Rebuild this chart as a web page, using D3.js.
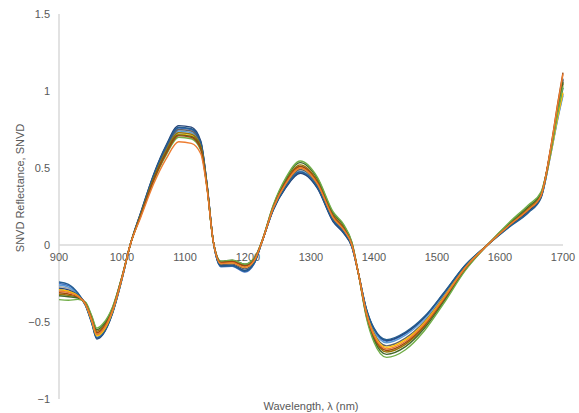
<!DOCTYPE html>
<html>
<head>
<meta charset="utf-8">
<script src="https://cdn.jsdelivr.net/npm/d3@7/dist/d3.min.js"></script>
<style>
  html, body { margin: 0; padding: 0; background: #fff; }
  svg { display: block; }
  text { font-family: "Liberation Sans", Arial, sans-serif; fill: #595959; }
</style>
</head>
<body>
<svg id="chart" width="579" height="413"></svg>
<script>
// Sample wavelengths (nm) shared by every spectrum
const wavelengths = [900, 915, 930, 942, 952, 960, 970, 985, 1000, 1013, 1030, 1050, 1070, 1090, 1110, 1125, 1135, 1145, 1157, 1175, 1195, 1210, 1222, 1240, 1260, 1283, 1310, 1335, 1352, 1365, 1375, 1388, 1400, 1420, 1450, 1480, 1510, 1545, 1580, 1615, 1645, 1665, 1680, 1692, 1700];

// SNVD-corrected reflectance, one array per sample
const sample01 = [-0.25, -0.264, -0.316, -0.389, -0.501, -0.60, -0.57, -0.438, -0.219, 0.00, 0.209, 0.448, 0.636, 0.76, 0.75, 0.664, 0.389, 0.02, -0.141, -0.139, -0.175, -0.121, 0.017, 0.228, 0.376, 0.47, 0.373, 0.156, 0.079, -0.012, -0.18, -0.42, -0.548, -0.625, -0.575, -0.473, -0.321, -0.133, 0.00, 0.121, 0.215, 0.308, 0.579, 0.831, 0.98];
const sample02 = [-0.30, -0.309, -0.334, -0.383, -0.487, -0.58, -0.55, -0.426, -0.213, 0.00, 0.182, 0.394, 0.559, 0.67, 0.66, 0.592, 0.362, 0.02, -0.12, -0.115, -0.145, -0.10, 0.02, 0.24, 0.40, 0.50, 0.40, 0.18, 0.10, 0.00, -0.18, -0.445, -0.588, -0.675, -0.625, -0.513, -0.351, -0.148, 0.00, 0.13, 0.23, 0.32, 0.618, 0.922, 1.11];
const sample03 = [-0.27, -0.282, -0.323, -0.38, -0.48, -0.57, -0.54, -0.42, -0.21, 0.00, 0.20, 0.43, 0.61, 0.73, 0.72, 0.64, 0.38, 0.02, -0.113, -0.107, -0.135, -0.093, 0.021, 0.244, 0.408, 0.51, 0.409, 0.188, 0.107, 0.004, -0.18, -0.45, -0.596, -0.685, -0.635, -0.521, -0.357, -0.151, 0.00, 0.136, 0.24, 0.328, 0.60, 0.88, 1.05];
const sample04 = [-0.29, -0.30, -0.33, -0.386, -0.494, -0.59, -0.56, -0.432, -0.216, 0.00, 0.197, 0.424, 0.601, 0.72, 0.71, 0.632, 0.377, 0.02, -0.12, -0.115, -0.145, -0.10, 0.02, 0.24, 0.40, 0.50, 0.40, 0.18, 0.10, 0.00, -0.18, -0.44, -0.58, -0.665, -0.615, -0.505, -0.345, -0.145, 0.00, 0.13, 0.23, 0.32, 0.582, 0.838, 0.99];
const sample05 = [-0.26, -0.273, -0.32, -0.386, -0.494, -0.59, -0.56, -0.432, -0.216, 0.00, 0.203, 0.436, 0.619, 0.74, 0.73, 0.648, 0.383, 0.02, -0.134, -0.131, -0.165, -0.114, 0.018, 0.232, 0.384, 0.48, 0.382, 0.164, 0.086, -0.008, -0.18, -0.425, -0.556, -0.635, -0.585, -0.481, -0.327, -0.136, 0.00, 0.124, 0.22, 0.312, 0.576, 0.824, 0.97];
const sample06 = [-0.355, -0.359, -0.353, -0.371, -0.459, -0.54, -0.51, -0.402, -0.205, 0.00, 0.191, 0.412, 0.584, 0.70, 0.69, 0.616, 0.371, 0.02, -0.106, -0.099, -0.125, -0.086, 0.025, 0.258, 0.436, 0.545, 0.441, 0.216, 0.132, 0.018, -0.18, -0.473, -0.632, -0.73, -0.68, -0.557, -0.384, -0.165, 0.00, 0.148, 0.26, 0.344, 0.594, 0.866, 1.03];
const sample07 = [-0.28, -0.291, -0.327, -0.392, -0.508, -0.61, -0.58, -0.444, -0.222, 0.00, 0.214, 0.457, 0.648, 0.775, 0.765, 0.676, 0.394, 0.02, -0.134, -0.131, -0.165, -0.114, 0.018, 0.226, 0.372, 0.465, 0.369, 0.152, 0.076, -0.014, -0.18, -0.418, -0.544, -0.62, -0.57, -0.469, -0.318, -0.132, 0.00, 0.124, 0.22, 0.312, 0.609, 0.901, 1.08];
const sample08 = [-0.31, -0.318, -0.337, -0.38, -0.48, -0.57, -0.54, -0.42, -0.21, 0.00, 0.194, 0.418, 0.593, 0.71, 0.70, 0.624, 0.374, 0.02, -0.113, -0.107, -0.135, -0.093, 0.021, 0.244, 0.408, 0.51, 0.409, 0.188, 0.107, 0.004, -0.18, -0.45, -0.596, -0.685, -0.635, -0.521, -0.357, -0.151, 0.00, 0.13, 0.23, 0.32, 0.621, 0.929, 1.12];
const sample09 = [-0.29, -0.30, -0.33, -0.383, -0.487, -0.58, -0.55, -0.426, -0.213, 0.00, 0.206, 0.442, 0.627, 0.75, 0.74, 0.656, 0.386, 0.02, -0.127, -0.123, -0.155, -0.107, 0.019, 0.236, 0.392, 0.49, 0.391, 0.172, 0.093, -0.004, -0.18, -0.435, -0.572, -0.655, -0.605, -0.497, -0.339, -0.142, 0.00, 0.13, 0.23, 0.32, 0.606, 0.894, 1.07];
const sample10 = [-0.32, -0.327, -0.34, -0.377, -0.473, -0.56, -0.53, -0.414, -0.207, 0.00, 0.20, 0.43, 0.61, 0.73, 0.72, 0.64, 0.38, 0.02, -0.113, -0.107, -0.135, -0.093, 0.021, 0.248, 0.416, 0.52, 0.418, 0.196, 0.114, 0.008, -0.18, -0.455, -0.604, -0.695, -0.645, -0.529, -0.363, -0.154, 0.00, 0.136, 0.24, 0.328, 0.60, 0.88, 1.05];
const sample11 = [-0.24, -0.255, -0.312, -0.39, -0.505, -0.605, -0.575, -0.441, -0.22, 0.00, 0.21, 0.451, 0.64, 0.765, 0.755, 0.668, 0.39, 0.02, -0.138, -0.135, -0.17, -0.118, 0.018, 0.23, 0.38, 0.475, 0.378, 0.16, 0.083, -0.01, -0.18, -0.415, -0.54, -0.615, -0.565, -0.465, -0.315, -0.13, 0.00, 0.118, 0.21, 0.304, 0.591, 0.859, 1.02];
const sample12 = [-0.33, -0.336, -0.344, -0.374, -0.466, -0.55, -0.52, -0.408, -0.204, 0.00, 0.196, 0.421, 0.597, 0.715, 0.705, 0.628, 0.376, 0.02, -0.106, -0.099, -0.125, -0.086, 0.024, 0.254, 0.428, 0.535, 0.432, 0.208, 0.125, 0.014, -0.18, -0.463, -0.616, -0.71, -0.66, -0.541, -0.372, -0.159, 0.00, 0.142, 0.25, 0.336, 0.603, 0.887, 1.06];

const samples = [sample01, sample03, sample05, sample07, sample09, sample11, sample04, sample10, sample12, sample06, sample08, sample02];
const sampleColors = ["#4472C4", "#A5A5A5", "#5B9BD5", "#264478", "#636363", "#255E91", "#FFC000", "#997300", "#43682B", "#70AD47", "#9E480E", "#ED7D31"];

const xTicks = [900, 1000, 1100, 1200, 1300, 1400, 1500, 1600, 1700];
const yTicks = [-1, -0.5, 0, 0.5, 1, 1.5];

const svg = d3.select("#chart");
const x = d3.scaleLinear().domain([900, 1700]).range([59, 563]);
const y = d3.scaleLinear().domain([-1, 1.5]).range([399, 14]);

// Vertical value axis
svg.append("line")
  .attr("x1", x(900)).attr("x2", x(900))
  .attr("y1", y(1.5)).attr("y2", y(-1))
  .attr("stroke", "#d9d9d9").attr("stroke-width", 1.5);

// Horizontal category axis crossing at zero
svg.append("line")
  .attr("x1", x(900)).attr("x2", x(1700))
  .attr("y1", y(0)).attr("y2", y(0))
  .attr("stroke", "#d9d9d9").attr("stroke-width", 1.5);

svg.append("g").selectAll("text")
  .data(yTicks).join("text")
  .attr("x", 50).attr("y", d => y(d))
  .attr("dy", "0.35em")
  .attr("text-anchor", "end")
  .attr("font-size", 11)
  .text(d => d3.format("")(d));

svg.append("g").selectAll("text")
  .data(xTicks).join("text")
  .attr("x", d => x(d)).attr("y", y(0) + 16)
  .attr("text-anchor", "middle")
  .attr("font-size", 11)
  .text(d => d);

// Spectra
const line = d3.line()
  .x((d, i) => x(wavelengths[i]))
  .y(d => y(d))
  .curve(d3.curveMonotoneX);

svg.append("g").selectAll("path")
  .data(samples).join("path")
  .attr("d", d => line(d))
  .attr("fill", "none")
  .attr("stroke", (d, i) => sampleColors[i])
  .attr("stroke-width", 1.4)
  .attr("stroke-linejoin", "round");

// Axis titles
svg.append("text")
  .attr("transform", "translate(24,188) rotate(-90)")
  .attr("text-anchor", "middle")
  .attr("font-size", 11)
  .text("SNVD Reflectance, SNVD");

svg.append("text")
  .attr("x", (x(900) + x(1700)) / 2).attr("y", 410)
  .attr("text-anchor", "middle")
  .attr("font-size", 11)
  .text("Wavelength, λ (nm)");
</script>
</body>
</html>
